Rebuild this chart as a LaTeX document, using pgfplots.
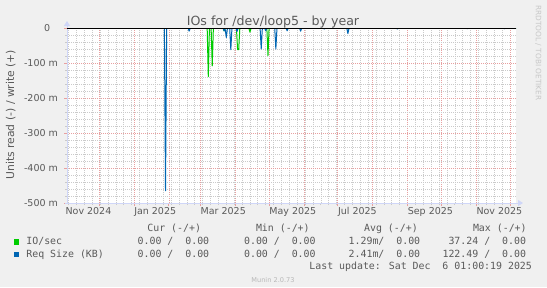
\documentclass[border=0pt]{standalone}
\usepackage{fontspec}
\setmainfont{DejaVu Sans}
\newfontfamily\monofont{DejaVu Sans Mono}
\usepackage{pgfplots}
\pgfplotsset{compat=1.18}
\usetikzlibrary{arrows.meta}
\definecolor{bgc}{HTML}{F0F0F0}
\definecolor{fontc}{HTML}{5A5A5A}
\definecolor{axisc}{HTML}{CFD6F8}
\definecolor{mgridc}{HTML}{E8A0A0}
\definecolor{gridc}{HTML}{CACACA}
\definecolor{iogreen}{HTML}{00CC00}
\definecolor{sizeblue}{HTML}{0066B3}
\newcommand{\fs}[1]{\fontsize{#1bp}{#1bp}\selectfont}

% day 0 = 1 Nov 2024; values in units (negative = read)
\pgfplotstableread{
day val
1.5 0
126 0
127 -0.139
128 0
129.5 0
130.5 -0.108
131.5 0
140 0
141 -0.008
142 0
152 0
153 -0.062
154 -0.062
155 0
163 0
164 -0.012
165 0
179 0
180 -0.079
181 0
400.3 0
}\iotable

\pgfplotstableread{
day val
1.5 0
88 0
89 -0.465
90 0
109 0
110 -0.009
111 0
140 0
141 -0.008
142 -0.004
143 -0.027
144 0
146 0
147 -0.062
148 0
151.5 0
152.5 -0.010
153.5 0
173 0
174 -0.060
175 0
177 0
178 -0.008
179 0
186 0
187 -0.060
188 0
196 0
197 -0.008
198 0
208 0
209 -0.009
210 0
229 0
230 -0.003
231 0
250 0
251 -0.016
252 0
294 0
295 -0.003
296 0
356 0
357 -0.002
358 0
389 0
390 -0.002
391 0
400.3 0
}\sizetable

\begin{document}
\begin{tikzpicture}[x=1bp,y=1bp]
\useasboundingbox (0,0) rectangle (547,287);
\fill[bgc] (0,0) rectangle (547,287);
\begin{axis}[
  at={(67bp,84bp)}, anchor=south west,
  scale only axis, width=449bp, height=175bp,
  xmin=1.5, xmax=400.3, ymin=-0.5, ymax=0,
  axis background/.style={fill=white},
  axis x line=bottom, axis y line=left,
  axis line style={draw=axisc, line width=1bp},
  x axis line style={-{Triangle[length=5bp,width=6bp]}, shorten >=-7bp, shorten <=-2bp},
  y axis line style={-{Triangle[length=5bp,width=6bp]}, shorten >=-7bp},
  xtick={30,61,92,120,151,181,212,242,273,304,334,365,395},
  xticklabels={},
  minor xtick={3,10,...,395},
  extra x ticks={2,63,122,183,244,306,367},
  extra x tick labels={Nov 2024,Jan 2025,Mar 2025,May 2025,Jul 2025,Sep 2025,Nov 2025},
  extra x tick style={grid=none, major tick length=0pt,
    xticklabel style={anchor=north west, xshift=-5.5bp}},
  ytick={-0.5,-0.4,-0.3,-0.2,-0.1,0},
  yticklabels={-500 m,-400 m,-300 m,-200 m,-100 m,0\hspace*{7.7bp}},
  minor y tick num=4,
  grid=both,
  major grid style={draw=mgridc, dash pattern=on 1bp off 1bp, line width=0.75bp},
  minor grid style={draw=gridc, dash pattern=on 1bp off 1bp, line width=0.75bp},
  tick align=outside,
  major tick length=3bp, minor tick length=2bp,
  every major tick/.append style={draw=mgridc, line width=0.8bp},
  every minor tick/.append style={draw=gridc, line width=0.8bp},
  tick label style={font=\fs{9.5}, text=fontc},
  yticklabel style={xshift=-2.6bp},
  xticklabel style={yshift=-1bp},
  clip=true,
]
\addplot[iogreen, line width=1bp, line join=round] table[x=day,y=val] {\iotable};
\addplot[sizeblue, line width=1bp, line join=round] table[x=day,y=val] {\sizetable};
\addplot[black, line width=1bp] coordinates {(1.5,0) (400.3,0)};
\end{axis}

% title and axis label
\node[font=\fs{12.6}, text=fontc, anchor=base] at (273,262) {IOs for /dev/loop5 - by year};
\node[font=\fs{10.8}, text=fontc, rotate=90] at (10.7,172.3) {Units read (-) / write (+)};
\node[font=\fs{7.4}, text=black!22, rotate=-90] at (538.3,234) {RRDTOOL / TOBI OETIKER};

% legend
\begin{scope}[every node/.style={font=\monofont\fs{9.9}, text=fontc, inner sep=0pt}]
\node[anchor=base west] at (147.2,55.3) {Cur (-/+)};
\node[anchor=base west] at (255.8,55.3) {Min (-/+)};
\node[anchor=base west] at (363.9,55.3) {Avg (-/+)};
\node[anchor=base west] at (472.8,55.3) {Max (-/+)};

\fill[iogreen] (14,42.3) rectangle (19.3,47.6);
\node[anchor=base west] at (26.2,42.2) {IO/sec};
\node[anchor=base east] at (209.4,42.2) {0.00 /\ \ 0.00};
\node[anchor=base east] at (315.8,42.2) {0.00 /\ \ 0.00};
\node[anchor=base east] at (420.4,42.2) {1.29m/\ \ 0.00};
\node[anchor=base east] at (526.2,42.2) {37.24 /\ \ 0.00};

\fill[sizeblue] (14,29.6) rectangle (19.3,34.9);
\node[anchor=base west] at (26.2,29.5) {Req Size (KB)};
\node[anchor=base east] at (209.4,29.5) {0.00 /\ \ 0.00};
\node[anchor=base east] at (315.8,29.5) {0.00 /\ \ 0.00};
\node[anchor=base east] at (420.4,29.5) {2.41m/\ \ 0.00};
\node[anchor=base east] at (526.2,29.5) {122.49 /\ \ 0.00};

\node[anchor=base east] at (532.1,17.2) {Last update: Sat Dec\ \ 6 01:00:19 2025};
\end{scope}
\node[font=\fs{6.6}, text=black!28, anchor=base] at (273,5) {Munin 2.0.73};
\end{tikzpicture}
\end{document}
